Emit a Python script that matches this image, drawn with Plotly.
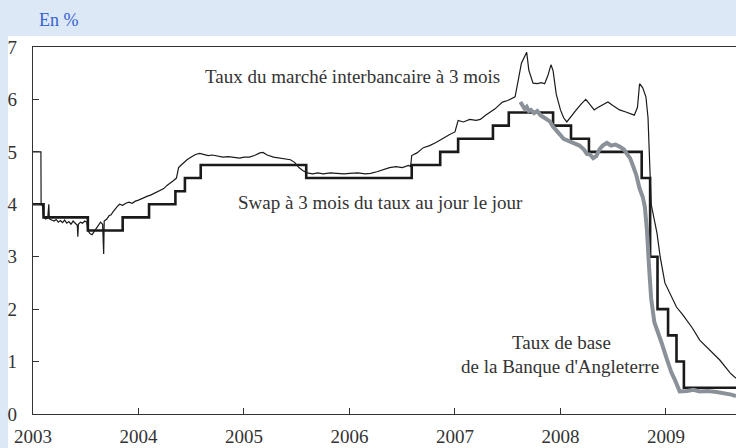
import plotly.graph_objects as go

# ---- Data (decimal years, %) ----
base_x = [2003.00, 2003.10, 2003.52, 2003.85, 2004.10, 2004.35, 2004.44, 2004.59,
          2005.59, 2006.59, 2006.86, 2007.03, 2007.36, 2007.51, 2007.93, 2008.10,
          2008.27, 2008.77, 2008.85, 2008.92, 2009.02, 2009.10, 2009.17, 2009.664]
base_y = [4.00, 3.75, 3.50, 3.75, 4.00, 4.25, 4.50, 4.75,
          4.50, 4.75, 5.00, 5.25, 5.50, 5.75, 5.50, 5.25,
          5.00, 4.50, 3.00, 2.00, 1.50, 1.00, 0.50, 0.50]

libor_x = [2003.000, 2003.075, 2003.077, 2003.090, 2003.100, 2003.120, 2003.140, 2003.150, 2003.155,
           2003.180, 2003.200, 2003.220, 2003.240, 2003.260, 2003.280, 2003.300, 2003.320, 2003.340,
           2003.360, 2003.380, 2003.400, 2003.420, 2003.425, 2003.430, 2003.450, 2003.470, 2003.490,
           2003.510, 2003.520, 2003.540, 2003.560, 2003.580, 2003.600, 2003.620, 2003.640, 2003.660,
           2003.670, 2003.675, 2003.700, 2003.720, 2003.740, 2003.760, 2003.780, 2003.800, 2003.820,
           2003.850, 2003.880, 2003.910, 2003.940, 2003.970, 2004.000, 2004.040, 2004.080, 2004.120,
           2004.160, 2004.200, 2004.240, 2004.270, 2004.300, 2004.330, 2004.360, 2004.380, 2004.400,
           2004.430, 2004.460, 2004.500, 2004.540, 2004.580, 2004.620, 2004.660, 2004.700, 2004.750,
           2004.800, 2004.850, 2004.900, 2004.960, 2005.000, 2005.050, 2005.100, 2005.150, 2005.180,
           2005.220, 2005.280, 2005.340, 2005.400, 2005.440, 2005.480, 2005.520, 2005.560, 2005.600,
           2005.650, 2005.700, 2005.750, 2005.820, 2005.880, 2005.950, 2006.000, 2006.080, 2006.150,
           2006.200, 2006.260, 2006.320, 2006.380, 2006.440, 2006.500, 2006.560, 2006.580, 2006.590,
           2006.640, 2006.700, 2006.760, 2006.820, 2006.860, 2006.900, 2006.950, 2007.000, 2007.030,
           2007.080, 2007.140, 2007.200, 2007.240, 2007.290, 2007.330, 2007.380, 2007.450, 2007.500,
           2007.570, 2007.600, 2007.630, 2007.680, 2007.700, 2007.740, 2007.780, 2007.820, 2007.850,
           2007.880, 2007.910, 2007.930, 2007.960, 2008.000, 2008.030, 2008.060, 2008.100, 2008.150,
           2008.200, 2008.240, 2008.280, 2008.320, 2008.350, 2008.400, 2008.450, 2008.500, 2008.560,
           2008.620, 2008.700, 2008.730, 2008.750, 2008.780, 2008.810, 2008.830, 2008.860, 2008.915,
           2008.945, 2008.990, 2009.055, 2009.100, 2009.160, 2009.250, 2009.320, 2009.420, 2009.510,
           2009.610, 2009.664]
libor_y = [5.00, 5.00, 4.00, 3.97, 3.76, 3.72, 3.74, 4.00, 3.72,
           3.70, 3.68, 3.71, 3.66, 3.69, 3.65, 3.70, 3.64, 3.67,
           3.62, 3.68, 3.64, 3.60, 3.38, 3.62, 3.66, 3.64, 3.68,
           3.66, 3.50, 3.44, 3.42, 3.48, 3.55, 3.60, 3.66, 3.62,
           3.05, 3.68, 3.72, 3.78, 3.80, 3.86, 3.92, 3.96, 4.00,
           3.98, 4.02, 4.04, 4.02, 4.06, 4.08, 4.12, 4.15, 4.18,
           4.22, 4.26, 4.30, 4.36, 4.40, 4.45, 4.50, 4.70, 4.74,
           4.80, 4.85, 4.90, 4.95, 4.97, 4.95, 4.93, 4.94, 4.92,
           4.90, 4.91, 4.89, 4.88, 4.90, 4.90, 4.93, 4.98, 4.99,
           4.94, 4.90, 4.88, 4.86, 4.85, 4.80, 4.70, 4.64, 4.60,
           4.58, 4.60, 4.58, 4.60, 4.59, 4.58, 4.59, 4.60, 4.58,
           4.59, 4.62, 4.66, 4.70, 4.72, 4.70, 4.74, 4.72, 4.93,
           4.98, 5.08, 5.12, 5.18, 5.23, 5.27, 5.33, 5.38, 5.60,
           5.57, 5.62, 5.60, 5.62, 5.70, 5.76, 5.82, 5.95, 5.98,
           6.05, 6.37, 6.69, 6.90, 6.56, 6.31, 6.30, 6.32, 6.30,
           6.45, 6.66, 6.55, 6.10, 5.80, 5.65, 5.57, 5.68, 5.80,
           5.92, 6.00, 5.90, 5.80, 5.84, 5.90, 5.95, 5.88, 5.80,
           5.76, 5.70, 5.85, 6.30, 6.22, 6.05, 5.65, 4.00, 3.45,
           3.00, 2.50, 2.23, 2.04, 1.89, 1.64, 1.41, 1.22, 1.03,
           0.78, 0.68]

swap_x = [2007.620, 2007.640, 2007.660, 2007.680, 2007.700, 2007.720, 2007.750, 2007.780,
          2007.810, 2007.840, 2007.870, 2007.900, 2007.930, 2007.960, 2008.000, 2008.030,
          2008.060, 2008.100, 2008.140, 2008.180, 2008.220, 2008.250, 2008.280, 2008.310,
          2008.340, 2008.370, 2008.400, 2008.440, 2008.480, 2008.520, 2008.560, 2008.600,
          2008.630, 2008.660, 2008.690, 2008.720, 2008.750, 2008.780, 2008.800, 2008.820,
          2008.840, 2008.860, 2008.890, 2008.930, 2008.960, 2009.000, 2009.020, 2009.050,
          2009.085, 2009.130, 2009.200, 2009.260, 2009.320, 2009.400, 2009.480, 2009.560,
          2009.620, 2009.664]
swap_y = [5.95, 5.90, 5.82, 5.86, 5.78, 5.80, 5.74, 5.78,
          5.70, 5.66, 5.62, 5.58, 5.48, 5.40, 5.32, 5.25,
          5.22, 5.20, 5.15, 5.12, 5.05, 4.96, 4.95, 4.88,
          4.92, 5.05, 5.12, 5.17, 5.12, 5.14, 5.10, 5.05,
          4.96, 4.88, 4.72, 4.55, 4.30, 4.14, 3.95, 3.50,
          2.80, 2.20, 1.75, 1.55, 1.35, 1.10, 0.97, 0.80,
          0.65, 0.43, 0.44, 0.46, 0.43, 0.44, 0.42, 0.40,
          0.37, 0.34]

year_ticks = [2003, 2004, 2005, 2006, 2007, 2008, 2009]
year_labels = ["2003", "2004", "2005", "2006", "2007", "2008", "2009"]
pct_ticks = [0, 1, 2, 3, 4, 5, 6, 7]

labels = [
    ("Taux du marché interbancaire à 3 mois", 2006.03, 6.43),
    ("Swap à 3 mois du taux au jour le jour", 2006.29, 4.03),
    ("Taux de base", 2008.01, 1.355),
    ("de la Banque d'Angleterre", 2008.00, 0.90),
]

# ---- Figure ----
W, H = 736, 448
ML, MR, MT, MB = 33, 0, 47, 34
pw, ph = W - ML - MR, H - MT - MB
FONT = "Liberation Serif, Times New Roman, DejaVu Serif, serif"
TXT = "#333333"
BG = "#dde8f7"

fig = go.Figure()
fig.add_trace(go.Scatter(x=libor_x, y=libor_y, mode="lines",
                         line=dict(color="#1a1a1a", width=1.2), hoverinfo="skip"))
fig.add_trace(go.Scatter(x=base_x, y=base_y, mode="lines", line_shape="hv",
                         line=dict(color="#1a1a1a", width=2.6), hoverinfo="skip"))
fig.add_trace(go.Scatter(x=swap_x, y=swap_y, mode="lines",
                         line=dict(color="#8a9198", width=4), hoverinfo="skip"))

for text, x, y in labels:
    fig.add_annotation(x=x, y=y, text=text, showarrow=False, xanchor="center", yanchor="middle",
                       font=dict(family=FONT, size=19, color=TXT))

fig.add_annotation(xref="paper", yref="paper", x=(37 - ML) / pw, y=(H - MB - 20) / ph,
                   text="En %", showarrow=False, xanchor="left", yanchor="middle",
                   font=dict(family=FONT, size=18, color="#3363d0"))

# white panel behind chart
fig.add_shape(type="rect", xref="paper", yref="paper", layer="below",
              x0=(8 - ML) / pw, x1=1.01, y0=-(MB + 2) / ph, y1=(H - MB - 36) / ph,
              fillcolor="white", line_width=0)

fig.update_layout(
    width=W, height=H,
    margin=dict(l=ML, r=MR, t=MT, b=MB),
    paper_bgcolor=BG,
    plot_bgcolor="white",
    showlegend=False,
    font=dict(family=FONT, size=19, color=TXT),
    xaxis=dict(range=[2003.0, 2009.664], tickvals=year_ticks, ticktext=year_labels,
               showgrid=False, zeroline=False, showline=True, linecolor="#333333", linewidth=1.3,
               mirror=True, ticks="inside", ticklen=6, tickcolor="#333333", tickwidth=1.2,
               ticklabelstandoff=5,
               tickfont=dict(family=FONT, size=19, color=TXT)),
    yaxis=dict(range=[0, 7], tickvals=pct_ticks, showgrid=False, zeroline=False,
               showline=True, linecolor="#333333", linewidth=1.3,
               ticks="inside", ticklen=6, tickcolor="#333333", tickwidth=1.2,
               ticklabelstandoff=11,
               tickfont=dict(family=FONT, size=19, color=TXT)),
)

fig.write_html("out.html", config={"displayModeBar": False},
               post_script="document.body.style.margin='0';document.body.style.overflow='hidden';"
                           "document.body.style.background='%s';" % BG)
